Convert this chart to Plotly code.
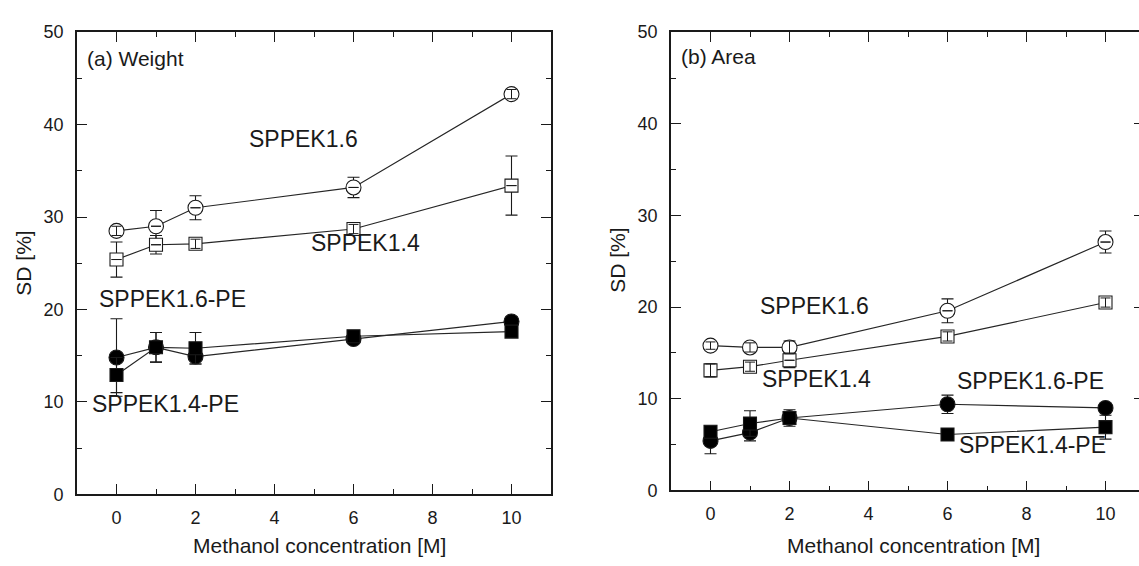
import plotly.graph_objects as go

# Methanol concentration [M]
conc = [0, 1, 2, 6, 10]

# (a) Weight-based swelling, SD [%]
weight_sppek16 = [28.5, 29.0, 31.0, 33.2, 43.3]
weight_sppek16_err = [0.5, 1.7, 1.3, 1.1, 0.5]
weight_sppek14 = [25.4, 27.0, 27.1, 28.7, 33.4]
weight_sppek14_err = [1.9, 1.0, 0.5, 0.5, 3.2]
weight_sppek16pe = [14.8, 15.9, 14.9, 16.8, 18.7]
weight_sppek16pe_err = [4.2, 1.6, 0.8, 0.4, 0.5]
weight_sppek14pe = [12.9, 15.9, 15.8, 17.1, 17.6]
weight_sppek14pe_err = [1.9, 1.6, 1.7, 0.4, 0.4]

# (b) Area-based swelling, SD [%]
area_sppek16 = [15.8, 15.6, 15.6, 19.6, 27.1]
area_sppek16_err = [0.4, 0.5, 0.7, 1.3, 1.2]
area_sppek14 = [13.1, 13.5, 14.2, 16.8, 20.5]
area_sppek14_err = [0.7, 0.5, 0.8, 0.5, 0.5]
area_sppek16pe = [5.4, 6.3, 7.9, 9.4, 9.0]
area_sppek16pe_err = [1.4, 0.9, 0.9, 1.0, 0.4]
area_sppek14pe = [6.4, 7.3, 7.9, 6.1, 6.9]
area_sppek14pe_err = [0.6, 1.4, 0.5, 0.3, 1.3]

series_names = ["SPPEK1.6", "SPPEK1.4", "SPPEK1.6-PE", "SPPEK1.4-PE"]

W, H = 1139, 566
INK = "#1a1a1a"
FONT = "Liberation Sans, Arial, sans-serif"

styles = {
    "SPPEK1.6": dict(symbol="circle", size=15, color="white"),
    "SPPEK1.4": dict(symbol="square", size=13, color="white"),
    "SPPEK1.6-PE": dict(symbol="circle", size=15, color="black"),
    "SPPEK1.4-PE": dict(symbol="square", size=13, color="black"),
}

panels = [
    dict(xa="x", ya="y", data=[
        (weight_sppek16, weight_sppek16_err),
        (weight_sppek14, weight_sppek14_err),
        (weight_sppek16pe, weight_sppek16pe_err),
        (weight_sppek14pe, weight_sppek14pe_err)]),
    dict(xa="x2", ya="y2", data=[
        (area_sppek16, area_sppek16_err),
        (area_sppek14, area_sppek14_err),
        (area_sppek16pe, area_sppek16pe_err),
        (area_sppek14pe, area_sppek14pe_err)]),
]

fig = go.Figure()

for p in panels:
    # connecting lines
    for name, (vals, err) in zip(series_names, p["data"]):
        fig.add_trace(go.Scatter(
            x=conc, y=vals, mode="lines", xaxis=p["xa"], yaxis=p["ya"],
            line=dict(color="#262626", width=1.2), showlegend=False,
            hoverinfo="skip"))
    # symbols with their error bars underneath
    for name, (vals, err) in zip(series_names, p["data"]):
        st = styles[name]
        fig.add_trace(go.Scatter(
            x=conc, y=vals, mode="markers", name=name,
            xaxis=p["xa"], yaxis=p["ya"], showlegend=False,
            marker=dict(symbol=st["symbol"], size=st["size"], color=st["color"],
                        line=dict(color=INK, width=1.1)),
            error_y=dict(type="data", array=err, visible=True,
                         color=INK, thickness=1.1, width=6)))
    # short error bars that sit inside the open symbols stay visible on top
    for name, (vals, err) in zip(series_names, p["data"]):
        if styles[name]["color"] != "white":
            continue
        inner = [e if e < 0.75 else None for e in err]
        fig.add_trace(go.Scatter(
            x=conc, y=vals, mode="markers", xaxis=p["xa"], yaxis=p["ya"],
            showlegend=False, hoverinfo="skip",
            marker=dict(size=1, opacity=0),
            error_y=dict(type="data", array=inner, visible=True,
                         color=INK, thickness=1.0, width=5)))

common_x = dict(range=[-1, 11], tick0=0, dtick=2, ticks="inside", ticklen=10,
                tickwidth=1.2, tickcolor=INK, showline=True, linecolor=INK,
                linewidth=1.6, mirror="ticks", showgrid=False, zeroline=False,
                minor=dict(ticks="inside", ticklen=5, tickwidth=1.2,
                           tickcolor=INK, dtick=1, tick0=0),
                tickfont=dict(size=18, color=INK, family=FONT),
                ticklabelstandoff=6)
common_y = dict(range=[0, 50], tick0=0, dtick=10, ticks="inside", ticklen=10,
                tickwidth=1.2, tickcolor=INK, showline=True, linecolor=INK,
                linewidth=1.6, showgrid=False, zeroline=False,
                minor=dict(ticks="inside", ticklen=5, tickwidth=1.2,
                           tickcolor=INK, dtick=5, tick0=0),
                tickfont=dict(size=18, color=INK, family=FONT),
                ticklabelstandoff=8)

# panel frames in pixels
Lx0, Lx1, Ly0, Ly1 = 77, 551, 23, 502
Rx0, Ry0, Ry1 = 671, 23, 498
unit_px = (Lx1 - Lx0) / 12.0
r_end = -1 + (W - Rx0) / unit_px

fig.update_layout(
    width=W, height=H, margin=dict(l=0, r=0, t=0, b=0),
    paper_bgcolor="white", plot_bgcolor="white",
    font=dict(family=FONT, color=INK),
    xaxis=dict(common_x, domain=[Lx0 / W, Lx1 / W], anchor="y"),
    yaxis=dict(common_y, domain=[(H - Ly1) / H, (H - Ly0) / H], anchor="x",
               mirror="ticks"),
    xaxis2=dict(common_x, domain=[Rx0 / W, 1.0], anchor="y2",
                range=[-1, r_end]),
    yaxis2=dict(common_y, domain=[(H - Ry1) / H, (H - Ry0) / H], anchor="x2",
                mirror=False),
    yaxis3=dict(range=[0, 50], tick0=0, dtick=10, ticks="inside", ticklen=5,
                tickwidth=1.2, tickcolor=INK, showline=False,
                showticklabels=False, showgrid=False, zeroline=False,
                overlaying="y2", side="right", anchor="x2"),
)

# empty trace so the right-hand tick axis is drawn
fig.add_trace(go.Scatter(x=[None], y=[None], xaxis="x2", yaxis="y3",
                         showlegend=False, hoverinfo="skip"))

ann = []
lab = dict(size=23, color=INK, family=FONT)
# series labels, panel (a)
ann += [
    dict(x=4.74, y=38.4, xref="x", yref="y", text="SPPEK1.6"),
    dict(x=6.3, y=27.2, xref="x", yref="y", text="SPPEK1.4"),
    dict(x=1.41, y=21.1, xref="x", yref="y", text="SPPEK1.6-PE"),
    dict(x=1.24, y=9.8, xref="x", yref="y", text="SPPEK1.4-PE"),
]
# series labels, panel (b)
ann += [
    dict(x=2.64, y=20.1, xref="x2", yref="y2", text="SPPEK1.6"),
    dict(x=2.69, y=12.2, xref="x2", yref="y2", text="SPPEK1.4"),
    dict(x=8.10, y=11.9, xref="x2", yref="y2", text="SPPEK1.6-PE"),
    dict(x=8.14, y=4.9, xref="x2", yref="y2", text="SPPEK1.4-PE"),
]
for a in ann:
    a.update(showarrow=False, font=lab, xanchor="center", yanchor="middle")

pfont = dict(size=21, color=INK, family=FONT)
ann += [
    dict(x=-0.8, y=47.1, xref="x", yref="y", text="(a) Weight", showarrow=False,
         font=pfont, xanchor="left", yanchor="middle"),
    dict(x=-0.8, y=47.3, xref="x2", yref="y2", text="(b) Area", showarrow=False,
         font=pfont, xanchor="left", yanchor="middle"),
]

# axis titles
tfont = dict(size=21, color=INK, family=FONT)
ann += [
    dict(x=319 / W, y=(H - 555) / H, xref="paper", yref="paper",
         text="Methanol concentration [M]", showarrow=False, font=tfont,
         xanchor="center", yanchor="middle"),
    dict(x=913 / W, y=(H - 555) / H, xref="paper", yref="paper",
         text="Methanol concentration [M]", showarrow=False, font=tfont,
         xanchor="center", yanchor="middle"),
    dict(x=24 / W, y=(H - 263) / H, xref="paper", yref="paper",
         text="SD [%]", showarrow=False, font=tfont, textangle=-90,
         xanchor="center", yanchor="middle"),
    dict(x=618 / W, y=(H - 260) / H, xref="paper", yref="paper",
         text="SD [%]", showarrow=False, font=tfont, textangle=-90,
         xanchor="center", yanchor="middle"),
]
fig.update_layout(annotations=ann)

fig.write_html("out.html")
